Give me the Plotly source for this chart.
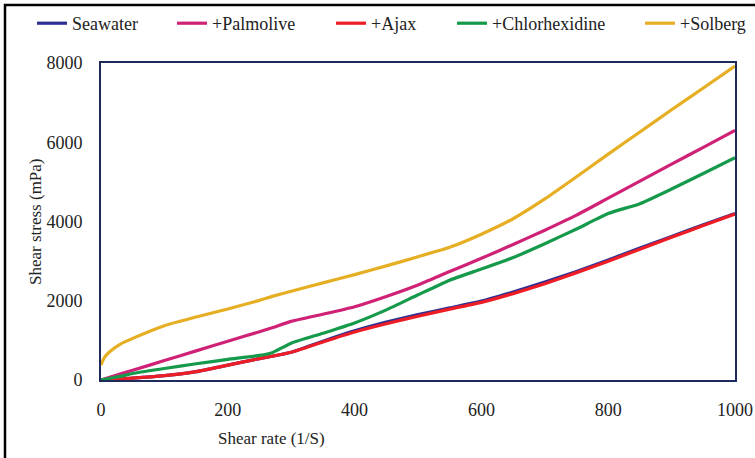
import plotly.graph_objects as go

shear_rate = [0, 5, 15, 30, 50, 100, 150, 200, 250, 270, 300, 350, 400, 450, 500, 550, 600, 650, 700, 750, 800, 850, 900, 950, 1000]

seawater =      [0, 3, 10, 25, 45, 110, 210, 375, 540, 600, 700, 980, 1240, 1460, 1650, 1820, 1990, 2220, 2470, 2740, 3030, 3330, 3620, 3920, 4200]
palmolive =     [0, 25, 75, 150, 245, 490, 735, 980, 1220, 1320, 1480, 1660, 1850, 2110, 2400, 2740, 3070, 3420, 3780, 4160, 4590, 5020, 5450, 5870, 6300]
ajax =          [0, 3, 10, 25, 45, 110, 210, 375, 540, 600, 700, 960, 1210, 1420, 1610, 1790, 1960, 2180, 2430, 2710, 3000, 3300, 3600, 3900, 4190]
chlorhexidine = [0, 15, 45, 90, 165, 290, 410, 520, 620, 690, 930, 1180, 1440, 1770, 2150, 2520, 2800, 3090, 3440, 3810, 4200, 4450, 4820, 5210, 5610]
solberg =       [380, 560, 730, 900, 1050, 1370, 1590, 1790, 2010, 2110, 2240, 2450, 2660, 2880, 3110, 3350, 3680, 4070, 4570, 5130, 5700, 6260, 6820, 7370, 7920]

series = [
    ("Seawater", seawater, "#2e3192"),
    ("+Palmolive", palmolive, "#cf2277"),
    ("+Ajax", ajax, "#ee1c25"),
    ("+Chlorhexidine", chlorhexidine, "#15994a"),
    ("+Solberg", solberg, "#e6ae22"),
]

x_ticks = [0, 200, 400, 600, 800, 1000]
y_ticks = [0, 2000, 4000, 6000, 8000]

# screen -> paper helpers (plot area: x 101..735, y 63..380 on screen)
def px(sx):
    return (sx - 101) / 634

def py(sy):
    return (380 - sy) / 317

fam = '"Liberation Serif", "Times New Roman", serif'
tick_font = dict(family=fam, size=18, color="#222222")
title_font = dict(family=fam, size=17, color="#222222")
legend_font = dict(family=fam, size=18, color="#222222")
axis_color = "#1f2a5c"

legend_text_x = [72, 212, 371, 492, 680]

fig = go.Figure()
legends = {}
for i, (name, vals, col) in enumerate(series):
    key = "legend" if i == 0 else f"legend{i + 1}"
    fig.add_trace(go.Scatter(x=shear_rate, y=vals, name=name, mode="lines", legend=key,
                             line=dict(color=col, width=3.2, shape="spline", smoothing=0.5)))
    legends[key] = dict(orientation="h", x=px(legend_text_x[i] - 40), y=py(5),
                        xanchor="left", yanchor="top", font=legend_font,
                        bgcolor="rgba(0,0,0,0)", borderwidth=0)

fig.update_layout(
    width=755, height=458,
    margin=dict(l=101, r=20, t=63, b=78, autoexpand=False),
    paper_bgcolor="white", plot_bgcolor="white",
    font=tick_font,
    showlegend=True,
    xaxis=dict(range=[0, 1000], tickvals=x_ticks, showgrid=False, zeroline=False,
               showline=True, linecolor=axis_color, linewidth=2, mirror=True,
               ticks="", ticklabelstandoff=12, tickfont=tick_font, automargin=False),
    yaxis=dict(range=[0, 8000], tickvals=y_ticks, showgrid=False, zeroline=False,
               showline=True, linecolor=axis_color, linewidth=2, mirror=True,
               ticks="", ticklabelstandoff=13, tickfont=tick_font, automargin=False),
    annotations=[
        dict(text="Shear rate (1/S)", xref="paper", yref="paper",
             x=px(271), y=py(438), xanchor="center", yanchor="middle",
             showarrow=False, font=title_font),
        dict(text="Shear stress (mPa)", xref="paper", yref="paper",
             x=px(35), y=py(222), xanchor="center", yanchor="middle",
             textangle=-90, showarrow=False, font=title_font),
    ],
    shapes=[
        dict(type="rect", xref="paper", yref="paper",
             x0=px(5), x1=px(770), y0=py(480), y1=py(5),
             line=dict(color="black", width=2.5), fillcolor="rgba(0,0,0,0)", layer="below"),
    ],
    **legends,
)

fig.write_html("out.html", config={"displayModeBar": False},
               post_script="document.body.style.margin='0px';")
